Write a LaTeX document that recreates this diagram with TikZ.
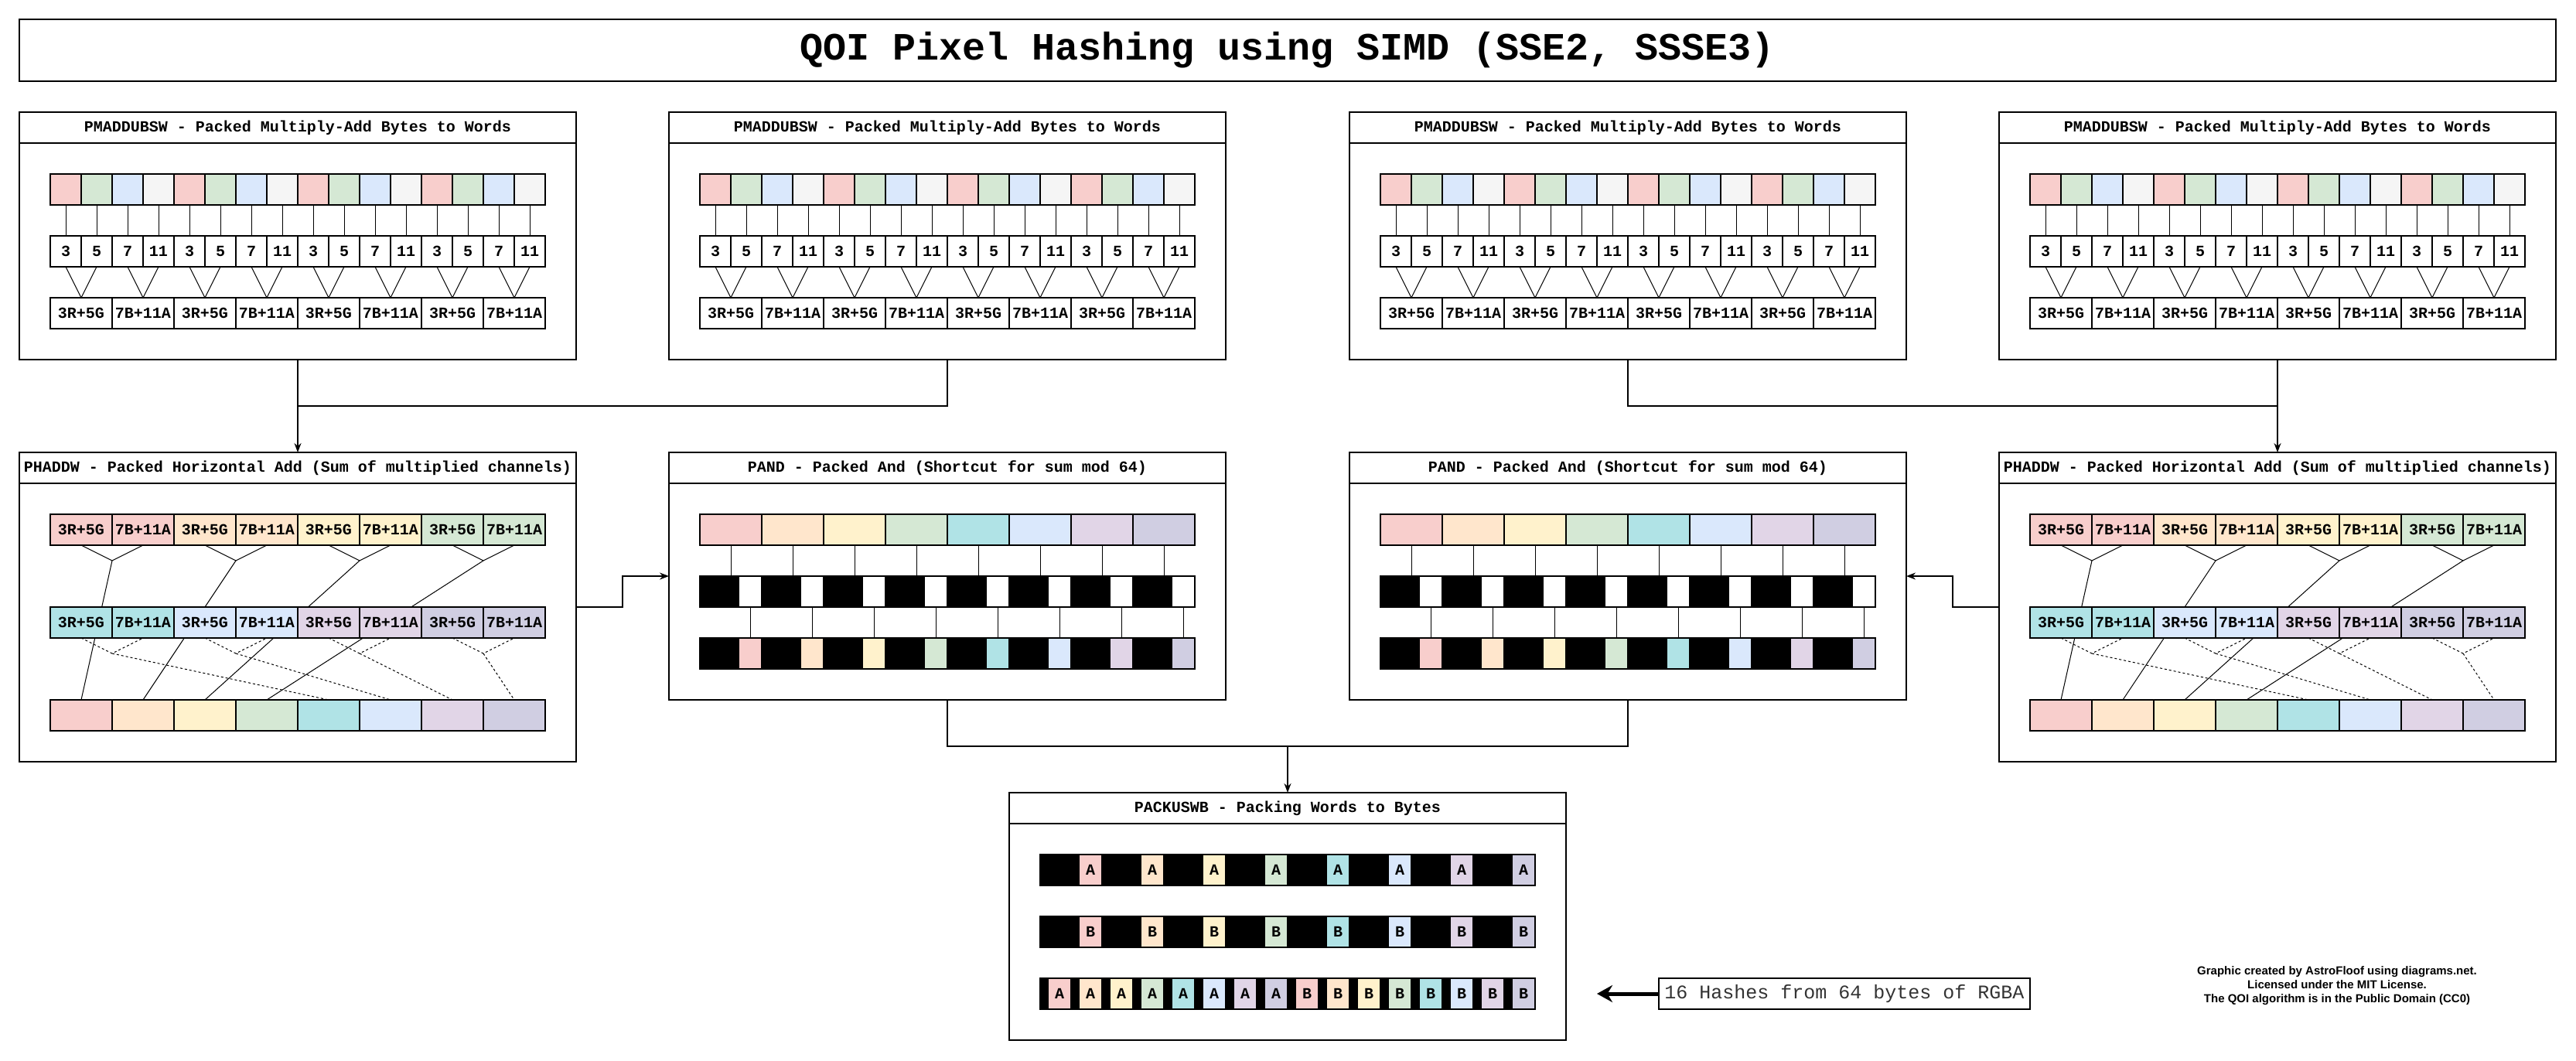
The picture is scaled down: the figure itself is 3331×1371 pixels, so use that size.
\documentclass[tikz,border=0pt]{standalone}
\usepackage{fontspec}
\setmainfont{Liberation Sans}
\setmonofont{Liberation Mono}
\usetikzlibrary{arrows.meta}
\definecolor{cred}{HTML}{F8CECC}
\definecolor{corange}{HTML}{FFE6CC}
\definecolor{cyellow}{HTML}{FFF2CC}
\definecolor{cgreen}{HTML}{D5E8D4}
\definecolor{cteal}{HTML}{B0E3E6}
\definecolor{cblue}{HTML}{DAE8FC}
\definecolor{cpurple}{HTML}{E1D5E7}
\definecolor{clavender}{HTML}{D0CEE2}
\definecolor{cgray}{HTML}{F5F5F5}
\begin{document}
\begin{tikzpicture}[x=1pt,y=-1pt,
    every node/.style={inner sep=0pt,outer sep=0pt},
    box/.style={draw,anchor=north west,line width=1.5pt,minimum width=720pt,fill=white},
    head/.style={box,minimum height=40pt,font=\ttfamily\bfseries\fontsize{20}{24}\selectfont},
    cell/.style={draw,anchor=north west,line width=1.2pt,minimum width=40pt,minimum height=40pt,font=\ttfamily\bfseries\fontsize{20}{24}\selectfont},
    word/.style={cell,minimum width=80pt},
    blk/.style={cell,fill=black,minimum width=50pt},
    slot/.style={cell,minimum width=30pt},
    thin/.style={line width=1pt},
    dots/.style={thin,dash pattern=on 3pt off 3pt},
    flow/.style={line width=1.5pt},
    arr/.style={flow,-{Stealth[length=12pt,width=9pt]}}]
  \useasboundingbox (0,0) rectangle (3331,1371);
  \node[box,minimum width=3280pt,minimum height=80pt,font=\ttfamily\bfseries\fontsize{50}{60}\selectfont] (title) at (25,25) {QOI Pixel Hashing using SIMD (SSE2, SSSE3)};

  \foreach \p/\x in {1/25,2/865,3/1745,4/2585}{
    \node[box,minimum height=320pt] (mad\p) at (\x,145) {};
    \node[head] (madh\p) at (\x,145) {PMADDUBSW - Packed Multiply-Add Bytes to Words};
    \foreach \g in {0,...,3}{
      \foreach \c/\n [count=\k from 0] in {cred/3,cgreen/5,cblue/7,cgray/11}{
        \pgfmathtruncatemacro\i{4*\g+\k}
        \node[cell,fill=\c] (ma\p-\i) at (\x+40+40*\i,225) {};
        \node[cell] (mb\p-\i) at (\x+40+40*\i,305) {\n};
        \draw[thin] (ma\p-\i.south) -- (mb\p-\i.north);
      }
      \foreach \t [count=\k from 0] in {3R+5G,7B+11A}{
        \pgfmathtruncatemacro\j{2*\g+\k}
        \node[word] (mc\p-\j) at (\x+40+80*\j,385) {\t};
      }
    }
    \foreach \j in {0,...,7}{
      \pgfmathtruncatemacro\a{2*\j}
      \pgfmathtruncatemacro\b{2*\j+1}
      \draw[thin] (mb\p-\a.south) -- (mc\p-\j.north) -- (mb\p-\b.south);
    }
  }

  \foreach \p/\x in {1/25,2/2585}{
    \node[box,minimum height=400pt] (had\p) at (\x,585) {};
    \node[head] (hadh\p) at (\x,585) {PHADDW - Packed Horizontal Add (Sum of multiplied channels)};
    \foreach \c [count=\g from 0] in {cred,corange,cyellow,cgreen}{
      \foreach \t [count=\k from 0] in {3R+5G,7B+11A}{
        \pgfmathtruncatemacro\j{2*\g+\k}
        \node[word,fill=\c] (ha\p-\j) at (\x+40+80*\j,665) {\t};
      }
    }
    \foreach \c [count=\j from 0] in {cred,corange,cyellow,cgreen,cteal,cblue,cpurple,clavender}
      \node[word,fill=\c] (hc\p-\j) at (\x+40+80*\j,905) {};
    \foreach \g in {0,...,3}{
      \pgfmathtruncatemacro\a{2*\g}
      \pgfmathtruncatemacro\b{2*\g+1}
      \coordinate (hj\p-\g) at (\x+120+160*\g,725);
      \draw[thin] (ha\p-\a.south) -- (hj\p-\g) -- (ha\p-\b.south);
      \draw[thin] (hj\p-\g) -- (hc\p-\g.north);
    }
    \foreach \c [count=\g from 0] in {cteal,cblue,cpurple,clavender}{
      \foreach \t [count=\k from 0] in {3R+5G,7B+11A}{
        \pgfmathtruncatemacro\j{2*\g+\k}
        \node[word,fill=\c] (hb\p-\j) at (\x+40+80*\j,785) {\t};
      }
    }
    \foreach \g in {0,...,3}{
      \pgfmathtruncatemacro\a{2*\g}
      \pgfmathtruncatemacro\b{2*\g+1}
      \pgfmathtruncatemacro\e{\g+4}
      \coordinate (hk\p-\g) at (\x+120+160*\g,845);
      \draw[dots] (hb\p-\a.south) -- (hk\p-\g) -- (hb\p-\b.south);
      \draw[dots] (hk\p-\g) -- (hc\p-\e.north);
    }
  }

  \foreach \p/\x in {1/865,2/1745}{
    \node[box,minimum height=320pt] (and\p) at (\x,585) {};
    \node[head] (andh\p) at (\x,585) {PAND - Packed And (Shortcut for sum mod 64)};
    \foreach \c [count=\j from 0] in {cred,corange,cyellow,cgreen,cteal,cblue,cpurple,clavender}{
      \node[word,fill=\c] (pa\p-\j) at (\x+40+80*\j,665) {};
      \node[blk] (pk\p-\j) at (\x+40+80*\j,745) {};
      \node[slot,fill=white] (pw\p-\j) at (\x+90+80*\j,745) {};
      \node[blk] (pl\p-\j) at (\x+40+80*\j,825) {};
      \node[slot,fill=\c] (pr\p-\j) at (\x+90+80*\j,825) {};
      \draw[thin] (pa\p-\j.south) -- (pa\p-\j.south |- pk\p-\j.north);
      \draw[thin] (pw\p-\j.south) -- (pr\p-\j.north);
    }
  }

  \node[box,minimum height=320pt] (pack) at (1305,1025) {};
  \node[head] (packh) at (1305,1025) {PACKUSWB - Packing Words to Bytes};
  \foreach \c [count=\j from 0] in {cred,corange,cyellow,cgreen,cteal,cblue,cpurple,clavender}{
    \pgfmathtruncatemacro\n{\j+8}
    \node[blk] (qk\j) at (1345+80*\j,1105) {};
    \node[slot,fill=\c] (qa\j) at (1395+80*\j,1105) {A};
    \node[blk] (ql\j) at (1345+80*\j,1185) {};
    \node[slot,fill=\c] (qb\j) at (1395+80*\j,1185) {B};
    \node[cell,fill=black,minimum width=10pt] (qm\j) at (1345+40*\j,1265) {};
    \node[slot,fill=\c] (qs\j) at (1355+40*\j,1265) {A};
    \node[cell,fill=black,minimum width=10pt] (qm\n) at (1665+40*\j,1265) {};
    \node[slot,fill=\c] (qs\n) at (1675+40*\j,1265) {B};
  }

  \node[draw,anchor=north west,line width=1.5pt,minimum width=480pt,minimum height=40pt,text=black!80,font=\ttfamily\fontsize{25}{30}\selectfont] (hash) at (2145,1265) {16 Hashes from 64 bytes of RGBA};
  \coordinate (hashtip) at (2065,1285);
  \draw[line width=5pt,-{Stealth[length=20pt,width=22pt]}] (hash.west) -- (hashtip);

  \node[align=center,font=\bfseries\fontsize{15}{18}\selectfont] (credit) at (3022,1275) {Graphic created by AstroFloof using diagrams.net.\\Licensed under the MIT License.\\The QOI algorithm is in the Public Domain (CC0)};

  \coordinate (jtop1) at (385,525);
  \coordinate (jtop2) at (2945,525);
  \coordinate (jbot) at (1665,965);
  \draw[flow] (mad2.south) |- (jtop1);
  \draw[arr] (mad1.south) -- (had1.north);
  \draw[flow] (mad3.south) |- (jtop2);
  \draw[arr] (mad4.south) -- (had2.north);
  \draw[arr] (had1.east) -- ++(60,0) |- (and1.west);
  \draw[arr] (had2.west) -- ++(-60,0) |- (and2.east);
  \draw[flow] (and1.south) |- (jbot);
  \draw[flow] (and2.south) |- (jbot);
  \draw[arr] (jbot) -- (pack.north);
\end{tikzpicture}
\end{document}
